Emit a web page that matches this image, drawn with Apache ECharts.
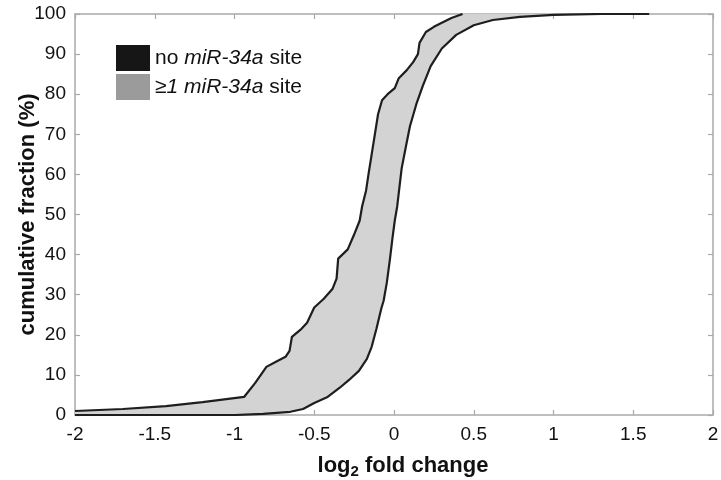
<!DOCTYPE html>
<html>
<head>
<meta charset="utf-8">
<script src="https://cdn.jsdelivr.net/npm/echarts@6/dist/echarts.min.js"></script>
<style>
  html, body { margin: 0; padding: 0; background: #fff; }
  #chart { width: 721px; height: 480px; }
</style>
</head>
<body>
<div id="chart"></div>
<script>
// Cumulative distributions of log2 fold change, [log2 FC, cumulative %]
var noSiteName = 'no miR-34a site';
var withSiteName = '\u22651 miR-34a site';

var withSiteCdf = [
  [-2, 1.0], [-1.7, 1.5], [-1.43, 2.2], [-1.2, 3.2], [-0.94, 4.5], [-0.87, 8],
  [-0.8, 12], [-0.74, 13.3], [-0.68, 14.5], [-0.655, 16], [-0.64, 19.5],
  [-0.58, 21.5], [-0.545, 23], [-0.5, 26.8], [-0.44, 29], [-0.385, 31.5],
  [-0.36, 34], [-0.35, 39], [-0.29, 41.3], [-0.25, 45], [-0.215, 48.5],
  [-0.2, 52], [-0.175, 56], [-0.16, 60], [-0.14, 65], [-0.12, 70], [-0.1, 75],
  [-0.075, 78.5], [-0.04, 80], [0.005, 81.5], [0.02, 83], [0.03, 84],
  [0.08, 86], [0.12, 88], [0.15, 90], [0.16, 92.8], [0.2, 95.5], [0.25, 96.8],
  [0.3, 97.8], [0.36, 99], [0.43, 100]
];

var noSiteCdf = [
  [-2, 0], [-1.0, 0], [-0.82, 0.3], [-0.65, 0.8], [-0.57, 1.5], [-0.5, 3],
  [-0.42, 4.4], [-0.34, 6.8], [-0.28, 8.8], [-0.22, 11], [-0.17, 14],
  [-0.14, 17], [-0.11, 21.5], [-0.08, 26.5], [-0.065, 28.5], [-0.045, 33],
  [-0.025, 39], [-0.01, 44], [0.005, 48.5], [0.02, 52], [0.048, 61.5],
  [0.075, 67], [0.1, 72], [0.14, 77.5], [0.18, 82], [0.23, 87], [0.3, 91.4],
  [0.39, 94.8], [0.5, 97.2], [0.62, 98.5], [0.79, 99.3], [1.0, 99.8],
  [1.3, 100], [1.6, 100]
];

var xTicks = { min: -2, max: 2, interval: 0.5 };
var yTicks = { min: 0, max: 100, interval: 10 };

var font = '"Liberation Sans", Arial, Helvetica, sans-serif';
var frameColor = '#a9a9a9';
var curveColor = '#1e1e1e';

// one side of the boxed frame: grey line with inward ticks
function frameAxis(extra) {
  var base = {
    type: 'value',
    axisLine: { show: true, onZero: false, lineStyle: { color: frameColor, width: 1.5 } },
    axisTick: { show: true, inside: true, length: 5, lineStyle: { color: frameColor, width: 1.2 } },
    splitLine: { show: false },
    axisLabel: { show: false }
  };
  return Object.assign(base, extra);
}

var chart = echarts.init(document.getElementById('chart'), null, { renderer: 'canvas' });

chart.setOption({
  backgroundColor: '#ffffff',
  animation: false,
  grid: { left: 75, right: 8, top: 14, bottom: 65, containLabel: false, outerBoundsMode: 'none' },
  legend: {
    left: 111,
    top: 40,
    orient: 'vertical',
    icon: 'rect',
    itemWidth: 34,
    itemHeight: 26,
    itemGap: 3,
    data: [
      { name: noSiteName, itemStyle: { color: '#161616', borderColor: '#161616' } },
      { name: withSiteName, itemStyle: { color: '#9b9b9b', borderColor: '#9b9b9b' } }
    ],
    formatter: function (name) {
      if (name === noSiteName) return '{n|no }{i|miR-34a}{n| site}';
      return '{n|\u2265}{i|1 miR-34a}{n| site}';
    },
    textStyle: {
      color: '#111',
      rich: {
        n: { fontFamily: font, fontSize: 21, color: '#111' },
        i: { fontFamily: font, fontSize: 21, fontStyle: 'italic', color: '#111' }
      }
    }
  },
  xAxis: [
    frameAxis(Object.assign({
      position: 'bottom',
      axisLabel: { show: true, color: '#111', fontFamily: font, fontSize: 19, margin: 10 },
      name: '{b|log}{s|2}{b| fold change}',
      nameLocation: 'middle',
      nameGap: 38,
      nameMoveOverlap: false,
      nameTextStyle: {
        padding: [0, 0, 0, 18],
        rich: {
          b: { fontFamily: font, fontSize: 22, fontWeight: 'bold', color: '#111' },
          s: { fontFamily: font, fontSize: 15, fontWeight: 'bold', color: '#111', padding: [11, 0, 0, 0] }
        }
      }
    }, xTicks)),
    frameAxis(Object.assign({ position: 'top' }, xTicks))
  ],
  yAxis: [
    frameAxis(Object.assign({
      position: 'left',
      axisLabel: { show: true, color: '#111', fontFamily: font, fontSize: 19, margin: 9 },
      name: 'cumulative fraction (%)',
      nameLocation: 'middle',
      nameGap: 36,
      nameMoveOverlap: false,
      nameTextStyle: { fontFamily: font, fontSize: 22, fontWeight: 'bold', color: '#111' }
    }, yTicks)),
    frameAxis(Object.assign({ position: 'right' }, yTicks))
  ],
  series: [
    {
      // shaded band between the two cumulative curves
      type: 'custom',
      name: 'band',
      silent: true,
      z: 1,
      data: [[0, 0]],
      renderItem: function (params, api) {
        var pts = [];
        withSiteCdf.forEach(function (p) { pts.push(api.coord(p)); });
        noSiteCdf.slice().reverse().forEach(function (p) { pts.push(api.coord(p)); });
        return {
          type: 'polygon',
          shape: { points: pts },
          style: { fill: '#d3d3d3', stroke: null }
        };
      }
    },
    {
      type: 'line',
      name: noSiteName,
      data: noSiteCdf,
      showSymbol: false,
      z: 3,
      lineStyle: { color: curveColor, width: 2.2 },
      itemStyle: { color: curveColor }
    },
    {
      type: 'line',
      name: withSiteName,
      data: withSiteCdf,
      showSymbol: false,
      z: 3,
      lineStyle: { color: curveColor, width: 2.2 },
      itemStyle: { color: curveColor }
    }
  ]
});
</script>
</body>
</html>
